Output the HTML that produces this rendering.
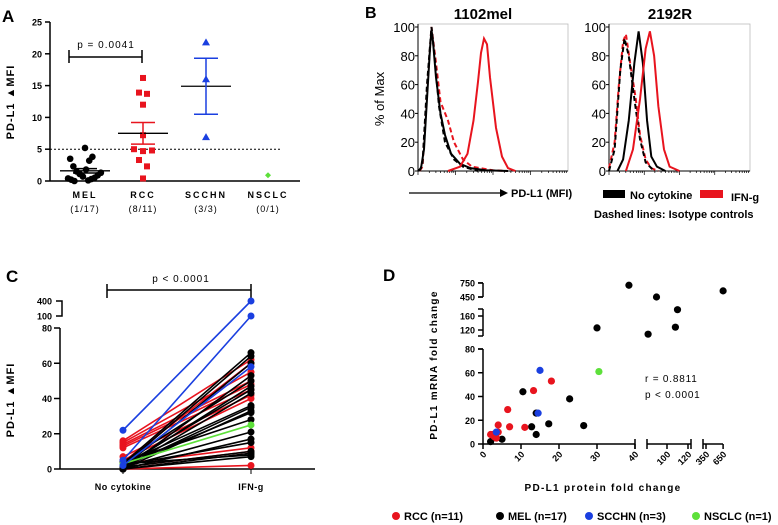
<!DOCTYPE html>
<html><head><meta charset="utf-8"><style>
body{margin:0;background:#fff}
svg{display:block;font-family:"Liberation Sans",Arial,sans-serif}
.b{font-weight:bold}
</style></head><body>
<svg id="s" width="778" height="525" viewBox="0 0 778 525" xmlns="http://www.w3.org/2000/svg">
<g id="gA">
<text x="2" y="22" font-size="17" class="b">A</text>
<text transform="translate(14,102) rotate(-90)" text-anchor="middle" font-size="11" class="b" letter-spacing="1">PD-L1 ▲MFI</text>
<line x1="69" y1="57" x2="142" y2="57" stroke="#000" stroke-width="1.5"/>
<line x1="69" y1="50" x2="69" y2="63" stroke="#000" stroke-width="1.5"/>
<line x1="142" y1="50" x2="142" y2="63" stroke="#000" stroke-width="1.5"/>
<text x="106" y="48" text-anchor="middle" font-size="10" letter-spacing="1">p = 0.0041</text>
</g>
<g id="gB">
<text x="365" y="18" font-size="16" class="b">B</text>
<text x="483" y="19" text-anchor="middle" font-size="15" class="b">1102mel</text>
<text x="670" y="19" text-anchor="middle" font-size="15" class="b">2192R</text>
<text transform="translate(384,99) rotate(-90)" text-anchor="middle" font-size="13">% of Max</text>
<line x1="409" y1="193" x2="500" y2="193" stroke="#000" stroke-width="1.2"/>
<polygon points="500,189 508,193 500,197" fill="#000"/>
<text x="511" y="197" font-size="11" class="b">PD-L1 (MFI)</text>
<rect x="603" y="190" width="22" height="8" fill="#000"/>
<text x="630" y="199" font-size="11" class="b">No cytokine</text>
<rect x="700" y="190" width="23" height="8" fill="#e8141e"/>
<text x="731" y="201" font-size="11" class="b">IFN-g</text>
<text x="594" y="218" font-size="11" class="b">Dashed lines: Isotype controls</text>
</g>
<g id="gC">
<text x="6" y="282" font-size="17" class="b">C</text>
<text transform="translate(14,400) rotate(-90)" text-anchor="middle" font-size="11" class="b" letter-spacing="1">PD-L1 ▲MFI</text>
<line x1="107" y1="290" x2="251" y2="290" stroke="#000" stroke-width="1.5"/>
<line x1="107" y1="284" x2="107" y2="298" stroke="#000" stroke-width="1.5"/>
<line x1="251" y1="284" x2="251" y2="298" stroke="#000" stroke-width="1.5"/>
<text x="181" y="282" text-anchor="middle" font-size="10" letter-spacing="1">p &lt; 0.0001</text>
</g>
<g id="gD">
<text x="383" y="281" font-size="17" class="b">D</text>
<text transform="translate(437,365) rotate(-90)" text-anchor="middle" font-size="10" class="b" letter-spacing="1.3">PD-L1 mRNA fold change</text>
<text x="603" y="491" text-anchor="middle" font-size="10" class="b" letter-spacing="1.3">PD-L1 protein fold change</text>
<text x="645" y="382" font-size="10" letter-spacing="0.8">r = 0.8811</text>
<text x="645" y="398" font-size="10" letter-spacing="0.8">p &lt; 0.0001</text>
</g>
</svg>
<script>
const NS="http://www.w3.org/2000/svg";
function mk(p,t,a,txt){const e=document.createElementNS(NS,t);for(const k in a)e.setAttribute(k,a[k]);if(txt!==undefined)e.textContent=txt;p.appendChild(e);return e;}
// ---------- Panel A data ----------
const aCats=["MEL","RCC","SCCHN","NSCLC"];
const aFrac=["(1/17)","(8/11)","(3/3)","(0/1)"];
const aTicks=[0,5,10,15,20,25];
const aMEL=[5.2,3.8,3.5,3.2,2.3,1.8,1.5,1.3,1.1,0.9,0.7,0.5,0.4,0.3,0.2,0.1,0.0];
const aRCC=[16.2,13.9,13.7,12,7.2,5,4.8,4.7,3.3,2.3,0.4];
const aSCC=[21.8,16,6.9];
const aNSC=[0.9];
const aMean=[1.6,7.5,14.9,0.9];
const aSem=[0.35,1.7,4.4,0];
const gA=document.getElementById('gA');
const ay=v=>181-v*6.36, ax=i=>[85,143,206,268][i];
mk(gA,'line',{x1:50,y1:22,x2:50,y2:181,stroke:'#000','stroke-width':1.5});
mk(gA,'line',{x1:50,y1:181,x2:300,y2:181,stroke:'#000','stroke-width':1.5});
aTicks.forEach(t=>{mk(gA,'line',{x1:45,y1:ay(t),x2:50,y2:ay(t),stroke:'#000','stroke-width':1.5});
 const tx=mk(gA,'text',{x:42,y:ay(t)+3.5,'text-anchor':'end','font-size':9,'font-weight':'bold'},String(t));
 });
mk(gA,'line',{x1:50,y1:ay(5),x2:281,y2:ay(5),stroke:'#000','stroke-dasharray':'2,2'});
aCats.forEach((c,i)=>{const t=mk(gA,'text',{x:ax(i),y:198,'text-anchor':'middle','font-size':9,'font-weight':'bold','letter-spacing':2},c);
 
 const f=mk(gA,'text',{x:ax(i),y:212,'text-anchor':'middle','font-size':9,'letter-spacing':1},aFrac[i]);
 });
const spread=(n,i,w)=>n<=1?0:(i%2?1:-1)*((i*7)%n)/n*w;
aMEL.forEach((v,i)=>{const c=mk(gA,'circle',{cx:ax(0)+spread(17,i,18),cy:ay(v),r:3.3,fill:'#000'});});
const rccOff=[0,-4,4,0,0,-9,9,0,-4,4,0];
aRCC.forEach((v,i)=>{const r=mk(gA,'rect',{x:ax(1)+rccOff[i]-3,y:ay(v)-3,width:6,height:6,fill:'#e8141e'});});
aSCC.forEach(v=>{const x=ax(2),y=ay(v);const p=mk(gA,'polygon',{points:`${x-4},${y+3} ${x+4},${y+3} ${x},${y-4}`,fill:'#1a3fe0'});});
aNSC.forEach(v=>{const x=ax(3),y=ay(v);const p=mk(gA,'polygon',{points:`${x},${y-3} ${x+3},${y} ${x},${y+3} ${x-3},${y}`,fill:'#5de03a'});});
const aCol=['#000','#e8141e','#1a3fe0','#000'];
aMean.forEach((m,i)=>{if(i===3)return;const x=ax(i);
 const l=mk(gA,'line',{x1:x-25,y1:ay(m),x2:x+25,y2:ay(m),stroke:'#000','stroke-width':1.3});
 const hi=ay(m+aSem[i]),lo=ay(m-aSem[i]);
 mk(gA,'line',{x1:x,y1:hi,x2:x,y2:lo,stroke:aCol[i],'stroke-width':1.5});
 mk(gA,'line',{x1:x-12,y1:hi,x2:x+12,y2:hi,stroke:aCol[i],'stroke-width':1.5});
 mk(gA,'line',{x1:x-12,y1:lo,x2:x+12,y2:lo,stroke:aCol[i],'stroke-width':1.5});});
// ---------- Panel B data ----------
const bTicks=[0,20,40,60,80,100];
const mel_blackSolid=[[0,0],[0.02,2],[0.04,15],[0.06,50],[0.08,85],[0.09,98],[0.10,90],[0.12,65],[0.15,40],[0.18,25],[0.22,12],[0.28,5],[0.35,2],[0.45,0.5],[0.6,0]];
const mel_blackDash=[[0.01,0],[0.03,5],[0.06,60],[0.09,100],[0.11,80],[0.14,45],[0.18,20],[0.24,8],[0.3,3],[0.4,0]];
const mel_redDash=[[0.01,0],[0.03,3],[0.06,55],[0.09,100],[0.12,75],[0.15,48],[0.2,35],[0.24,20],[0.3,8],[0.36,3],[0.5,0.5],[0.6,0]];
const mel_redSolid=[[0.2,0],[0.28,3],[0.33,12],[0.37,35],[0.40,62],[0.42,82],[0.44,92],[0.46,88],[0.48,65],[0.52,30],[0.56,10],[0.6,2],[0.65,0]];
const r_redDash=[[0,2],[0.04,20],[0.07,60],[0.1,90],[0.12,95],[0.15,75],[0.19,50],[0.22,25],[0.26,8],[0.3,2],[0.35,0]];
const r_blackDash=[[0,0],[0.04,15],[0.08,70],[0.11,92],[0.14,80],[0.18,50],[0.22,22],[0.26,6],[0.32,0]];
const r_blackSolid=[[0.06,0],[0.1,8],[0.14,35],[0.18,75],[0.21,97],[0.24,75],[0.27,35],[0.3,10],[0.34,3],[0.4,0]];
const r_redSolid=[[0.12,0],[0.17,15],[0.22,50],[0.26,85],[0.29,97],[0.32,80],[0.35,45],[0.39,15],[0.43,3],[0.5,0]];
const gB=document.getElementById('gB');
function histPanel(x0,x1,curves,name){
 const by=v=>171-v/100*144, bx=f=>x0+f*(x1-x0);
 mk(gB,'rect',{x:x0,y:24,width:x1-x0,height:147,fill:'none',stroke:'#bbb','stroke-width':0.8});
 mk(gB,'line',{x1:x0,y1:24,x2:x0,y2:171,stroke:'#000','stroke-width':1});
 mk(gB,'line',{x1:x0,y1:171,x2:x1,y2:171,stroke:'#000','stroke-width':1});
 bTicks.forEach(t=>{mk(gB,'line',{x1:x0-3,y1:by(t),x2:x0,y2:by(t),stroke:'#000'});
  const tx=mk(gB,'text',{x:x0-3,y:by(t)+5,'text-anchor':'end','font-size':13},String(t));});
 for(let d=0;d<4;d++)for(let k=1;k<10;k++){const x=x0+(d+Math.log10(k))/4*(x1-x0);mk(gB,'line',{x1:x,y1:171,x2:x,y2:k===1?175:173,stroke:'#000','stroke-width':0.7});}
 curves.forEach(c=>{const p=mk(gB,'polyline',{points:c.d.map(q=>bx(q[0])+','+by(q[1])).join(' '),fill:'none',stroke:c.c,'stroke-width':2,'stroke-dasharray':c.dash?'5,3':'none'});
  });
}
histPanel(418,568,[{d:mel_redDash,c:'#e8141e',dash:1},{d:mel_blackDash,c:'#000',dash:1},{d:mel_blackSolid,c:'#000'},{d:mel_redSolid,c:'#e8141e'}],'mel');
histPanel(609,750,[{d:r_redDash,c:'#e8141e',dash:1},{d:r_blackDash,c:'#000',dash:1},{d:r_blackSolid,c:'#000'},{d:r_redSolid,c:'#e8141e'}],'r2192');
// ---------- Panel C data ----------
const cCats=["No cytokine","IFN-g"];
const cTicks=[0,20,40,60,80];
const cBefore=[22,5,2, 16,15,14,13,12,7,5,4,3,1,0, 3,2,1,0,4,1,2,0,3,1,0,2,4,1,0,2,1,0,3,0, 3];
const cAfter=[400,100,58, 62,55,50,48,45,42,40,60,12,10,2, 66,64,60,53,50,47,45,43,36,35,33,32,28,21,17,15,10,9,8,7, 25];
const cGroup=['SCCHN','SCCHN','SCCHN','RCC','RCC','RCC','RCC','RCC','RCC','RCC','RCC','RCC','RCC','RCC','MEL','MEL','MEL','MEL','MEL','MEL','MEL','MEL','MEL','MEL','MEL','MEL','MEL','MEL','MEL','MEL','MEL','MEL','MEL','MEL','NSCLC'];
const colorOf={RCC:'#e8141e',MEL:'#000',SCCHN:'#1a3fe0',NSCLC:'#5de03a'};
const gC=document.getElementById('gC');
const cy=v=>v<=80?469-v*1.7625:(v<=100?316:316-(v-100)*0.05);
const cx=i=>[123,251][i];
mk(gC,'line',{x1:60,y1:328,x2:60,y2:469,stroke:'#000','stroke-width':1.5});
mk(gC,'line',{x1:60,y1:469,x2:315,y2:469,stroke:'#000','stroke-width':1.5});
mk(gC,'polyline',{points:'56,301 62,301 62,316 56,316',fill:'none',stroke:'#000','stroke-width':1.5});
[0,20,40,60,80].forEach(t=>{mk(gC,'line',{x1:54,y1:cy(t),x2:60,y2:cy(t),stroke:'#000','stroke-width':1.5});
 const tx=mk(gC,'text',{x:52,y:cy(t)+3.5,'text-anchor':'end','font-size':9,'font-weight':'bold'},String(t));});
[100,400].forEach(t=>{const tx=mk(gC,'text',{x:52,y:cy(t)+3.5,'text-anchor':'end','font-size':9,'font-weight':'bold'},String(t));});
cCats.forEach((c,i)=>{mk(gC,'line',{x1:cx(i),y1:469,x2:cx(i),y2:474,stroke:'#000'});
 const t=mk(gC,'text',{x:cx(i),y:490,'text-anchor':'middle','font-size':9,'font-weight':'bold','letter-spacing':0.5},c);});
const order=[...cBefore.keys()].filter(i=>cGroup[i]!=='SCCHN').concat([...cBefore.keys()].filter(i=>cGroup[i]==='SCCHN'));
order.forEach(i=>{const col=colorOf[cGroup[i]];
 const l=mk(gC,'line',{x1:cx(0),y1:cy(cBefore[i]),x2:cx(1),y2:cy(cAfter[i]),stroke:col,'stroke-width':1.6});
 const a=mk(gC,'circle',{cx:cx(0),cy:cy(cBefore[i]),r:3.5,fill:col});
 const b=mk(gC,'circle',{cx:cx(1),cy:cy(cAfter[i]),r:3.5,fill:col});});
// ---------- Panel D data ----------
const dProtein=[38.4,90,110,108,82,650,30,10.5,22.8,26.5,17.3,12.8,14,14,2,5,3.5, 18,13.3,6.5,7,11,4,2,3,4,3.5,2.5, 15,14.5,3.5, 30.5];
const dMrna=[700,450,178,128,108,580,126,44,38,15.5,17,14.5,8,26,2,4,5, 53,45,29,14.5,14,16,8,6,10,5,8, 62,26,10, 61];
const dGroup=['MEL','MEL','MEL','MEL','MEL','MEL','MEL','MEL','MEL','MEL','MEL','MEL','MEL','MEL','MEL','MEL','MEL','RCC','RCC','RCC','RCC','RCC','RCC','RCC','RCC','RCC','RCC','RCC','SCCHN','SCCHN','SCCHN','NSCLC'];
const dXTicks=[0,10,20,30,40,100,120,350,650];
const dYTicks=[0,20,40,60,80,120,160,450,750];
const dLegend=["RCC (n=11)","MEL (n=17)","SCCHN (n=3)","NSCLC (n=1)"];
const dLegendGroup=['RCC','MEL','SCCHN','NSCLC'];
const gD=document.getElementById('gD');
const dx=v=>v<=40?483+v*3.8:(v<=125?667+(v-100)*1.05:706+(v-350)*0.057);
const dy=v=>v<=80?444-v*1.1875:(v<=200?330-(v-120)*0.35:297-(v-450)*0.047);
mk(gD,'line',{x1:483,y1:349,x2:483,y2:444,stroke:'#000','stroke-width':1.5});
mk(gD,'line',{x1:483,y1:309,x2:483,y2:336,stroke:'#000','stroke-width':1.5});
mk(gD,'line',{x1:483,y1:283,x2:483,y2:297,stroke:'#000','stroke-width':1.5});
[349,336,309,297,283].forEach(y=>mk(gD,'line',{x1:478,y1:y,x2:483,y2:y,stroke:'#000','stroke-width':1.5}));
mk(gD,'line',{x1:483,y1:444,x2:635,y2:444,stroke:'#000','stroke-width':1.5});
mk(gD,'line',{x1:647,y1:444,x2:691,y2:444,stroke:'#000','stroke-width':1.5});
mk(gD,'line',{x1:703,y1:444,x2:723,y2:444,stroke:'#000','stroke-width':1.5});
[635,647,691,703].forEach(x=>mk(gD,'line',{x1:x,y1:439,x2:x,y2:449,stroke:'#000','stroke-width':1.5}));
dYTicks.forEach(t=>{mk(gD,'line',{x1:478,y1:dy(t),x2:483,y2:dy(t),stroke:'#000','stroke-width':1.5});
 const tx=mk(gD,'text',{x:475,y:dy(t)+3.5,'text-anchor':'end','font-size':9,'font-weight':'bold'},String(t));});
dXTicks.forEach(t=>{mk(gD,'line',{x1:dx(t),y1:444,x2:dx(t),y2:449,stroke:'#000','stroke-width':1.5});
 const tx=mk(gD,'text',{'text-anchor':'end','font-size':9,'font-weight':'bold',transform:`translate(${dx(t)+4},${455}) rotate(-45)`},String(t));});
const dOrder=[...dProtein.keys()].filter(i=>dGroup[i]==='MEL').concat([...dProtein.keys()].filter(i=>dGroup[i]!=='MEL'));
dOrder.forEach(i=>{const c=mk(gD,'circle',{cx:dx(dProtein[i]),cy:dy(dMrna[i]),r:3.6,fill:colorOf[dGroup[i]]});});
const legX=[396,500,589,696];
dLegend.forEach((l,i)=>{const c=mk(gD,'circle',{cx:legX[i],cy:516,r:4,fill:colorOf[dLegendGroup[i]]});
 const t=mk(gD,'text',{x:legX[i]+8,y:520,'font-size':11,'font-weight':'bold'},l);});
</script>
</body></html>
